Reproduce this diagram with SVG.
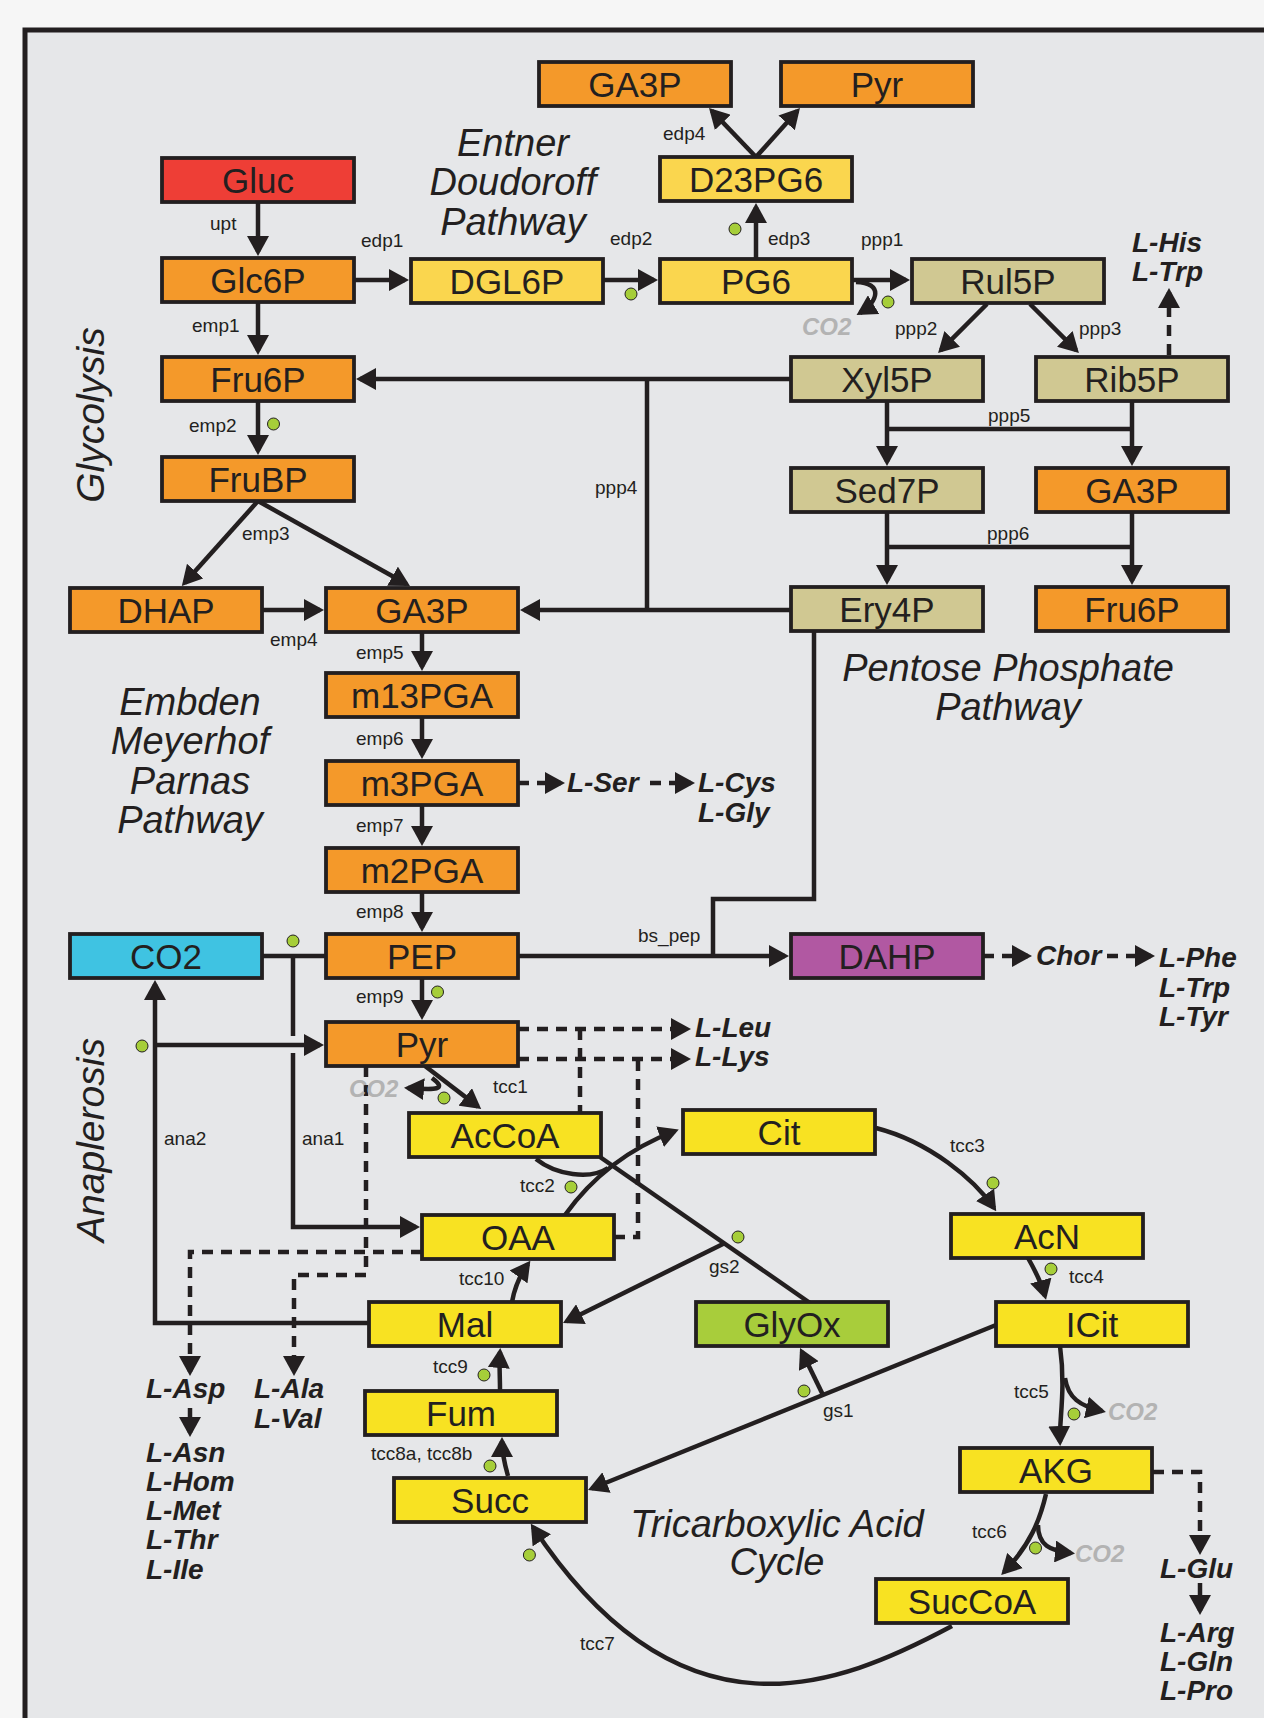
<svg xmlns="http://www.w3.org/2000/svg" width="1264" height="1718" viewBox="0 0 1264 1718">
<style>
.bx{stroke:#231f20;stroke-width:3.8}
.nt{font-family:"Liberation Sans",Arial,sans-serif;font-size:35px;fill:#231f20;text-anchor:middle}
.c{fill:none;stroke:#231f20;stroke-width:4.5}
.d{fill:none;stroke:#231f20;stroke-width:4.5;stroke-dasharray:11 8}
.lb{font-family:"Liberation Sans",Arial,sans-serif;font-size:19px;fill:#231f20}
.aa{font-family:"Liberation Sans",Arial,sans-serif;font-size:28px;font-weight:bold;font-style:italic;fill:#231f20}
.g2{font-family:"Liberation Sans",Arial,sans-serif;font-size:24px;font-weight:bold;font-style:italic;fill:#b3b3b3}
.ti{font-family:"Liberation Sans",Arial,sans-serif;font-size:38px;font-style:italic;fill:#231f20;text-anchor:middle}
.dot{fill:#a6ce39;stroke:#231f20;stroke-width:1}
.or{fill:#f4992a}.rd{fill:#ee3e36}.ly{fill:#fad64e}.ty{fill:#f8e222}.tn{fill:#d0c892}.bl{fill:#3fc3e2}.pu{fill:#b158a2}.gr{fill:#a8cd3b}
</style>
<defs>
<marker id="ah" viewBox="0 0 20 22" refX="16" refY="11" markerWidth="20" markerHeight="22" markerUnits="userSpaceOnUse" orient="auto">
<path d="M0,0 L20,11 L0,22 z" fill="#231f20"/>
</marker>
</defs>
<rect x="0" y="0" width="1264" height="1718" fill="#f6f6f6"/>
<rect x="25" y="30" width="1270" height="1720" fill="#e6e7e9" stroke="#231f20" stroke-width="5"/>

<g id="titles">
<text class="ti" x="513" y="156">Entner</text>
<text class="ti" x="513" y="195">Doudoroff</text>
<text class="ti" x="513" y="235">Pathway</text>
<text class="ti" x="190" y="715">Embden</text>
<text class="ti" x="190" y="754">Meyerhof</text>
<text class="ti" x="190" y="794">Parnas</text>
<text class="ti" x="190" y="833">Pathway</text>
<text class="ti" x="1008" y="681">Pentose Phosphate</text>
<text class="ti" x="1008" y="720">Pathway</text>
<text class="ti" x="777" y="1537">Tricarboxylic Acid</text>
<text class="ti" x="777" y="1575">Cycle</text>
<text class="ti" transform="translate(104,415) rotate(-90)" x="0" y="0" style="font-size:39px">Glycolysis</text>
<text class="ti" transform="translate(104,1140) rotate(-90)" x="0" y="0" style="font-size:39px">Anaplerosis</text>
</g>

<g id="connectors">
<path class="c" d="M258,202 V252" marker-end="url(#ah)"/>
<path class="c" d="M258,302 V351" marker-end="url(#ah)"/>
<path class="c" d="M258,401 V451" marker-end="url(#ah)"/>
<path class="c" d="M258,501 L184.5,583" marker-end="url(#ah)"/>
<path class="c" d="M258,501 L406.5,584" marker-end="url(#ah)"/>
<path class="c" d="M262,610 H320" marker-end="url(#ah)"/>
<path class="c" d="M422,632 V667" marker-end="url(#ah)"/>
<path class="c" d="M422,717 V755" marker-end="url(#ah)"/>
<path class="c" d="M422,805 V842" marker-end="url(#ah)"/>
<path class="c" d="M422,892 V928" marker-end="url(#ah)"/>
<path class="c" d="M422,978 V1016" marker-end="url(#ah)"/>
<path class="c" d="M354,280 H405" marker-end="url(#ah)"/>
<path class="c" d="M603,280 H654" marker-end="url(#ah)"/>
<path class="c" d="M756,259 V207" marker-end="url(#ah)"/>
<path class="c" d="M756,157 L711.8,110.9" marker-end="url(#ah)"/>
<path class="c" d="M756,157 L797.3,111" marker-end="url(#ah)"/>
<path class="c" d="M852,280 H906" marker-end="url(#ah)"/>
<path class="c" d="M856,282 C884,283 878,302 860,313" marker-end="url(#ah)"/>
<path class="c" d="M987,304 L940.9,350.2" marker-end="url(#ah)"/>
<path class="c" d="M1030,304 L1076.1,350.2" marker-end="url(#ah)"/>
<path class="d" d="M1169,355 V292" marker-end="url(#ah)"/>
<path class="c" d="M791,379 H360" marker-end="url(#ah)"/>
<path class="c" d="M647,379 V610"/>
<path class="c" d="M791,610 H524" marker-end="url(#ah)"/>
<path class="c" d="M887,401 V462" marker-end="url(#ah)"/>
<path class="c" d="M1132,401 V462" marker-end="url(#ah)"/>
<path class="c" d="M887,429 H1132"/>
<path class="c" d="M887,512 V581" marker-end="url(#ah)"/>
<path class="c" d="M1132,512 V581" marker-end="url(#ah)"/>
<path class="c" d="M887,547 H1132"/>
<path class="c" d="M518,956 H785" marker-end="url(#ah)"/>
<path class="c" d="M814,631 V899 H713 V956"/>
<path class="c" d="M262,956 H326"/>
<path class="c" d="M293,956 V1036"/>
<path class="c" d="M293,1053 V1227 H416" marker-end="url(#ah)"/>
<path class="c" d="M369,1323 H155 V984" marker-end="url(#ah)"/>
<path class="c" d="M155,1045 H320" marker-end="url(#ah)"/>
<path class="c" d="M425,1066 L478,1106.6" marker-end="url(#ah)"/>
<path class="c" d="M432,1078 C448,1090 436,1090 408,1088" marker-end="url(#ah)"/>
<path class="c" d="M565,1215 C590,1180 625,1150 675,1131" marker-end="url(#ah)"/>
<path class="c" d="M536,1159 C556,1175 590,1180 608,1168"/>
<path class="c" d="M600,1157 L810,1303"/>
<path class="c" d="M725,1243 L566.6,1321.2" marker-end="url(#ah)"/>
<path class="c" d="M876,1128 C930,1142 975,1180 994,1208" marker-end="url(#ah)"/>
<path class="c" d="M1028,1258 C1036,1272 1042,1285 1045,1296" marker-end="url(#ah)"/>
<path class="c" d="M996,1325 L591.7,1488.5" marker-end="url(#ah)"/>
<path class="c" d="M823,1395 L801.8,1351.6" marker-end="url(#ah)"/>
<path class="c" d="M1060,1346 C1066,1390 1059,1420 1060,1442" marker-end="url(#ah)"/>
<path class="c" d="M1065,1378 C1068,1398 1080,1406 1102,1411" marker-end="url(#ah)"/>
<path class="c" d="M1046,1494 C1040,1520 1030,1545 1004,1572" marker-end="url(#ah)"/>
<path class="c" d="M1038,1525 C1038,1545 1050,1551 1071,1553" marker-end="url(#ah)"/>
<path class="c" d="M952,1626 C838,1687 681,1751 533,1527" marker-end="url(#ah)"/>
<path class="c" d="M508,1476 C504,1462 502,1452 502,1441" marker-end="url(#ah)"/>
<path class="c" d="M500,1390 C500,1375 499,1365 500,1352" marker-end="url(#ah)"/>
<path class="c" d="M512,1302 C515,1285 520,1275 528,1264" marker-end="url(#ah)"/>
<path class="d" d="M518,783 H561" marker-end="url(#ah)"/>
<path class="d" d="M650,783 H691" marker-end="url(#ah)"/>
<path class="d" d="M518,1029 H687" marker-end="url(#ah)"/>
<path class="d" d="M518,1059 H687" marker-end="url(#ah)"/>
<path class="d" d="M580,1029 V1113"/>
<path class="d" d="M614,1237 H638 V1059"/>
<path class="d" d="M366,1066 V1275 H294 V1372" marker-end="url(#ah)"/>
<path class="d" d="M422,1252 H190 V1372" marker-end="url(#ah)"/>
<path class="c" d="M190,1408 V1433" marker-end="url(#ah)"/>
<path class="d" d="M983,956 H1028" marker-end="url(#ah)"/>
<path class="d" d="M1107,956 H1151" marker-end="url(#ah)"/>
<path class="d" d="M1153,1472 H1200 V1551" marker-end="url(#ah)"/>
<path class="c" d="M1200,1583 V1611" marker-end="url(#ah)"/>

<text class="lb" x="210" y="230">upt</text>
<text class="lb" x="192" y="332">emp1</text>
<text class="lb" x="361" y="247">edp1</text>
<text class="lb" x="610" y="245">edp2</text>
<text class="lb" x="768" y="245">edp3</text>
<text class="lb" x="663" y="140">edp4</text>
<text class="lb" x="861" y="246">ppp1</text>
<text class="lb" x="895" y="335">ppp2</text>
<text class="lb" x="1079" y="335">ppp3</text>
<text class="lb" x="595" y="494">ppp4</text>
<text class="lb" x="988" y="422">ppp5</text>
<text class="lb" x="987" y="540">ppp6</text>
<text class="lb" x="189" y="432">emp2</text>
<text class="lb" x="242" y="540">emp3</text>
<text class="lb" x="270" y="646">emp4</text>
<text class="lb" x="356" y="659">emp5</text>
<text class="lb" x="356" y="745">emp6</text>
<text class="lb" x="356" y="832">emp7</text>
<text class="lb" x="356" y="918">emp8</text>
<text class="lb" x="356" y="1003">emp9</text>
<text class="lb" x="638" y="942">bs_pep</text>
<text class="lb" x="164" y="1145">ana2</text>
<text class="lb" x="302" y="1145">ana1</text>
<text class="lb" x="493" y="1093">tcc1</text>
<text class="lb" x="520" y="1192">tcc2</text>
<text class="lb" x="950" y="1152">tcc3</text>
<text class="lb" x="1069" y="1283">tcc4</text>
<text class="lb" x="459" y="1285">tcc10</text>
<text class="lb" x="709" y="1273">gs2</text>
<text class="lb" x="823" y="1417">gs1</text>
<text class="lb" x="1014" y="1398">tcc5</text>
<text class="lb" x="972" y="1538">tcc6</text>
<text class="lb" x="580" y="1650">tcc7</text>
<text class="lb" x="371" y="1460">tcc8a, tcc8b</text>
<text class="lb" x="433" y="1373">tcc9</text>

<text class="g2" x="802" y="335">CO2</text>
<text class="g2" x="349" y="1097">CO2</text>
<text class="g2" x="1108" y="1420">CO2</text>
<text class="g2" x="1075" y="1562">CO2</text>

<text class="aa" x="1132" y="252">L-His</text>
<text class="aa" x="1132" y="281">L-Trp</text>
<text class="aa" x="567" y="792">L-Ser</text>
<text class="aa" x="698" y="792">L-Cys</text>
<text class="aa" x="698" y="822">L-Gly</text>
<text class="aa" x="695" y="1037">L-Leu</text>
<text class="aa" x="695" y="1066">L-Lys</text>
<text class="aa" x="1036" y="965">Chor</text>
<text class="aa" x="1159" y="967">L-Phe</text>
<text class="aa" x="1159" y="997">L-Trp</text>
<text class="aa" x="1159" y="1026">L-Tyr</text>
<text class="aa" x="146" y="1398">L-Asp</text>
<text class="aa" x="146" y="1462">L-Asn</text>
<text class="aa" x="146" y="1491">L-Hom</text>
<text class="aa" x="146" y="1520">L-Met</text>
<text class="aa" x="146" y="1549">L-Thr</text>
<text class="aa" x="146" y="1579">L-Ile</text>
<text class="aa" x="254" y="1398">L-Ala</text>
<text class="aa" x="254" y="1428">L-Val</text>
<text class="aa" x="1160" y="1578">L-Glu</text>
<text class="aa" x="1160" y="1642">L-Arg</text>
<text class="aa" x="1160" y="1671">L-Gln</text>
<text class="aa" x="1160" y="1700">L-Pro</text>

<circle class="dot" cx="631" cy="294" r="6"/>
<circle class="dot" cx="735" cy="229" r="6"/>
<circle class="dot" cx="888" cy="302" r="6"/>
<circle class="dot" cx="273.5" cy="424" r="6"/>
<circle class="dot" cx="293" cy="941" r="6"/>
<circle class="dot" cx="437.5" cy="992" r="6"/>
<circle class="dot" cx="142" cy="1046" r="6"/>
<circle class="dot" cx="444" cy="1098" r="6"/>
<circle class="dot" cx="571" cy="1187" r="6"/>
<circle class="dot" cx="738" cy="1237" r="6"/>
<circle class="dot" cx="993" cy="1183" r="6"/>
<circle class="dot" cx="1051" cy="1269" r="6"/>
<circle class="dot" cx="804" cy="1391" r="6"/>
<circle class="dot" cx="1074" cy="1414" r="6"/>
<circle class="dot" cx="1035.5" cy="1548" r="6"/>
<circle class="dot" cx="529.4" cy="1555" r="6"/>
<circle class="dot" cx="490" cy="1466" r="6"/>
<circle class="dot" cx="484" cy="1375" r="6"/>
</g>

<g id="n-Gluc"><rect class="bx rd" x="162" y="158" width="192" height="44"/><text class="nt" x="258" y="193">Gluc</text></g>
<g id="n-Glc6P"><rect class="bx or" x="162" y="258" width="192" height="44"/><text class="nt" x="258" y="293">Glc6P</text></g>
<g id="n-DGL6P"><rect class="bx ly" x="411" y="259" width="192" height="44"/><text class="nt" x="507" y="294">DGL6P</text></g>
<g id="n-PG6"><rect class="bx ly" x="660" y="259" width="192" height="44"/><text class="nt" x="756" y="294">PG6</text></g>
<g id="n-D23PG6"><rect class="bx ly" x="660" y="157" width="192" height="44"/><text class="nt" x="756" y="192">D23PG6</text></g>
<g id="n-GA3P-top"><rect class="bx or" x="539" y="62" width="192" height="44"/><text class="nt" x="635" y="97">GA3P</text></g>
<g id="n-Pyr-top"><rect class="bx or" x="781" y="62" width="192" height="44"/><text class="nt" x="877" y="97">Pyr</text></g>
<g id="n-Rul5P"><rect class="bx tn" x="912" y="259" width="192" height="44"/><text class="nt" x="1008" y="294">Rul5P</text></g>
<g id="n-Fru6P"><rect class="bx or" x="162" y="357" width="192" height="44"/><text class="nt" x="258" y="392">Fru6P</text></g>
<g id="n-Xyl5P"><rect class="bx tn" x="791" y="357" width="192" height="44"/><text class="nt" x="887" y="392">Xyl5P</text></g>
<g id="n-Rib5P"><rect class="bx tn" x="1036" y="357" width="192" height="44"/><text class="nt" x="1132" y="392">Rib5P</text></g>
<g id="n-FruBP"><rect class="bx or" x="162" y="457" width="192" height="44"/><text class="nt" x="258" y="492">FruBP</text></g>
<g id="n-Sed7P"><rect class="bx tn" x="791" y="468" width="192" height="44"/><text class="nt" x="887" y="503">Sed7P</text></g>
<g id="n-GA3P-r"><rect class="bx or" x="1036" y="468" width="192" height="44"/><text class="nt" x="1132" y="503">GA3P</text></g>
<g id="n-DHAP"><rect class="bx or" x="70" y="588" width="192" height="44"/><text class="nt" x="166" y="623">DHAP</text></g>
<g id="n-GA3P"><rect class="bx or" x="326" y="588" width="192" height="44"/><text class="nt" x="422" y="623">GA3P</text></g>
<g id="n-Ery4P"><rect class="bx tn" x="791" y="587" width="192" height="44"/><text class="nt" x="887" y="622">Ery4P</text></g>
<g id="n-Fru6P-r"><rect class="bx or" x="1036" y="587" width="192" height="44"/><text class="nt" x="1132" y="622">Fru6P</text></g>
<g id="n-m13PGA"><rect class="bx or" x="326" y="673" width="192" height="44"/><text class="nt" x="422" y="708">m13PGA</text></g>
<g id="n-m3PGA"><rect class="bx or" x="326" y="761" width="192" height="44"/><text class="nt" x="422" y="796">m3PGA</text></g>
<g id="n-m2PGA"><rect class="bx or" x="326" y="848" width="192" height="44"/><text class="nt" x="422" y="883">m2PGA</text></g>
<g id="n-CO2"><rect class="bx bl" x="70" y="934" width="192" height="44"/><text class="nt" x="166" y="969">CO2</text></g>
<g id="n-PEP"><rect class="bx or" x="326" y="934" width="192" height="44"/><text class="nt" x="422" y="969">PEP</text></g>
<g id="n-DAHP"><rect class="bx pu" x="791" y="934" width="192" height="44"/><text class="nt" x="887" y="969">DAHP</text></g>
<g id="n-Pyr"><rect class="bx or" x="326" y="1022" width="192" height="44"/><text class="nt" x="422" y="1057">Pyr</text></g>
<g id="n-AcCoA"><rect class="bx ty" x="409" y="1113" width="192" height="44"/><text class="nt" x="505" y="1148">AcCoA</text></g>
<g id="n-Cit"><rect class="bx ty" x="683" y="1110" width="192" height="44"/><text class="nt" x="779" y="1145">Cit</text></g>
<g id="n-OAA"><rect class="bx ty" x="422" y="1215" width="192" height="44"/><text class="nt" x="518" y="1250">OAA</text></g>
<g id="n-AcN"><rect class="bx ty" x="951" y="1214" width="192" height="44"/><text class="nt" x="1047" y="1249">AcN</text></g>
<g id="n-Mal"><rect class="bx ty" x="369" y="1302" width="192" height="44"/><text class="nt" x="465" y="1337">Mal</text></g>
<g id="n-GlyOx"><rect class="bx gr" x="696" y="1302" width="192" height="44"/><text class="nt" x="792" y="1337">GlyOx</text></g>
<g id="n-ICit"><rect class="bx ty" x="996" y="1302" width="192" height="44"/><text class="nt" x="1092" y="1337">ICit</text></g>
<g id="n-Fum"><rect class="bx ty" x="365" y="1391" width="192" height="44"/><text class="nt" x="461" y="1426">Fum</text></g>
<g id="n-AKG"><rect class="bx ty" x="960" y="1448" width="192" height="44"/><text class="nt" x="1056" y="1483">AKG</text></g>
<g id="n-Succ"><rect class="bx ty" x="394" y="1478" width="192" height="44"/><text class="nt" x="490" y="1513">Succ</text></g>
<g id="n-SucCoA"><rect class="bx ty" x="876" y="1579" width="192" height="44"/><text class="nt" x="972" y="1614">SucCoA</text></g>
</svg>
